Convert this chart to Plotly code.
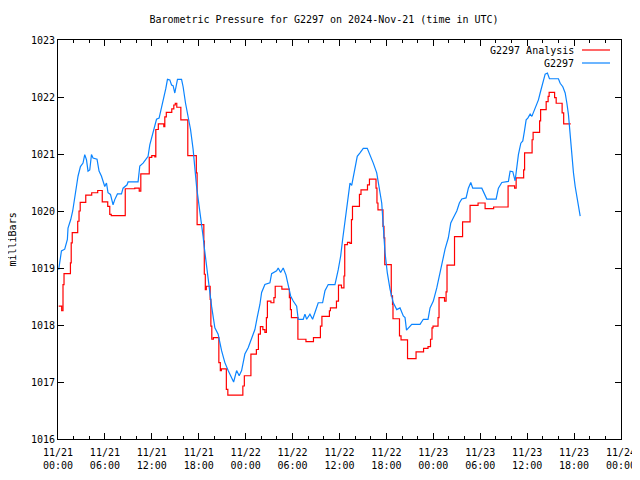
import pandas as pd
import plotly.graph_objects as go

# Hours since 2024-11-21 00:00 UTC
start = pd.Timestamp("2024-11-21 00:00")

analysis_hours = [0.09, 0.47, 0.64, 0.77, 1.59, 1.69, 1.82, 2.52, 2.69, 2.84, 3.55, 4.31, 5.08, 5.66, 6.36,
                  6.62, 6.81, 8.60, 9.82, 10.39, 10.59, 11.67, 11.99, 12.38, 12.51, 12.83, 13.53, 13.66, 13.85,
                  14.55, 14.81, 15.00, 15.19, 15.71, 16.60, 17.69, 17.79, 18.65, 18.71, 18.84, 18.97, 19.46,
                  19.55, 19.67, 19.87, 20.57, 20.76, 20.89, 21.53, 21.72, 23.64, 23.83, 24.67, 25.37, 25.63,
                  25.88, 26.20, 26.46, 26.65, 26.78, 27.23, 27.61, 27.78, 28.63, 29.59, 29.72, 29.85, 30.68,
                  31.71, 32.67, 33.56, 33.75, 34.71, 34.84, 35.61, 35.87, 36.25, 36.57, 36.67, 37.02, 37.34,
                  37.53, 37.66, 38.55, 38.75, 39.58, 39.83, 40.67, 40.79, 40.92, 41.56, 41.69, 41.79, 42.62,
                  42.78, 42.84, 43.67, 43.87, 44.70, 45.79, 46.75, 47.32, 47.64, 47.83, 47.96, 48.60, 48.73,
                  49.43, 49.63, 49.75, 50.71, 51.74, 52.70, 53.72, 54.62, 55.71, 57.56, 58.39, 58.59, 59.55,
                  59.67, 60.63, 60.76, 61.59, 61.72, 62.43, 62.68, 62.81, 63.51, 63.71, 64.47, 64.67, 65.57]
analysis_mb = [1018.33, 1018.25, 1018.71, 1018.90, 1019.09, 1019.44, 1019.62, 1019.82, 1020.00, 1020.15,
               1020.28, 1020.32, 1020.36, 1020.16, 1020.08, 1019.94, 1019.92, 1020.39, 1020.40, 1020.35,
               1020.65, 1020.94, 1020.97, 1020.95, 1021.43, 1021.53, 1021.48, 1021.65, 1021.73, 1021.79,
               1021.86, 1021.89, 1021.82, 1021.60, 1020.97, 1020.67, 1019.76, 1019.47, 1018.89, 1018.62,
               1018.68, 1018.45, 1017.98, 1017.75, 1017.78, 1017.34, 1017.20, 1017.23, 1016.87, 1016.77,
               1016.93, 1017.11, 1017.49, 1017.57, 1017.84, 1017.97, 1017.92, 1017.87, 1018.13, 1018.42,
               1018.39, 1018.48, 1018.68, 1018.63, 1018.48, 1018.27, 1018.13, 1017.75, 1017.71, 1017.78,
               1017.98, 1018.15, 1018.25, 1018.30, 1018.42, 1018.70, 1018.65, 1018.86, 1019.41, 1019.45,
               1019.43, 1019.85, 1020.08, 1020.29, 1020.37, 1020.46, 1020.56, 1020.40, 1020.14, 1020.02,
               1019.73, 1019.53, 1019.06, 1018.51, 1018.36, 1018.11, 1017.81, 1017.74, 1017.41, 1017.53,
               1017.59, 1017.62, 1017.75, 1017.95, 1017.98, 1018.13, 1018.48, 1018.42, 1018.58, 1019.05,
               1019.55, 1019.81, 1020.10, 1020.14, 1020.04, 1020.07, 1020.44, 1020.40, 1020.58, 1020.72,
               1021.02, 1021.25, 1021.38, 1021.58, 1021.78, 1021.92, 1022.01, 1022.08, 1021.99, 1021.89,
               1021.72, 1021.53, 1021.53]

obs_hours = [0.09, 0.44, 0.86, 1.20, 1.28, 1.63, 1.88, 2.27, 2.56, 2.87, 3.20, 3.42, 3.64, 3.84, 4.06, 4.28,
             4.48, 4.99, 5.25, 5.56, 5.98, 6.20, 6.40, 6.71, 7.04, 7.26, 7.60, 8.12, 8.32, 8.83, 8.96, 10.24,
             10.46, 10.88, 11.23, 11.52, 11.74, 12.16, 12.38, 12.60, 12.93, 13.24, 13.53, 13.79, 14.00, 14.30,
             14.52, 14.72, 14.94, 15.16, 15.28, 15.80, 16.00, 16.31, 16.64, 16.95, 17.28, 17.50, 17.72, 18.05,
             18.36, 18.56, 18.69, 19.00, 19.33, 19.64, 20.06, 20.48, 20.92, 21.34, 21.76, 22.20, 22.46, 22.84,
             23.17, 23.48, 23.90, 24.32, 24.76, 25.18, 25.47, 25.82, 26.04, 26.46, 27.10, 27.32, 27.96, 28.16,
             28.47, 28.80, 29.15, 29.44, 29.75, 30.08, 30.52, 30.72, 31.36, 31.58, 31.80, 32.22, 32.56, 32.86,
             33.28, 33.84, 34.14, 34.56, 35.42, 35.84, 36.15, 36.40, 36.61, 36.92, 37.17, 37.34, 37.56, 37.76,
             37.98, 38.27, 38.62, 39.04, 39.55, 39.90, 40.32, 40.76, 41.09, 41.40, 41.60, 41.82, 42.11, 42.46,
             42.88, 43.32, 43.74, 44.16, 44.38, 44.57, 45.24, 46.30, 46.72, 47.32, 47.58, 48.00, 48.44, 48.77,
             49.08, 49.50, 49.92, 50.23, 50.56, 51.00, 51.33, 51.64, 52.19, 52.48, 52.79, 53.04, 54.20, 54.62,
             54.84, 56.03, 56.32, 56.76, 57.60, 57.82, 58.16, 58.46, 58.68, 58.88, 59.19, 59.44, 59.65, 59.87,
             60.08, 60.38, 60.60, 60.80, 61.02, 61.24, 61.44, 61.66, 61.88, 62.08, 62.30, 62.59, 62.85, 64.00,
             64.22, 64.56, 64.86, 65.08, 65.28, 65.50, 65.63, 65.76, 65.92, 66.14, 66.36, 66.56, 66.78]
obs_mb = [1018.97, 1019.30, 1019.33, 1019.50, 1019.70, 1019.85, 1020.00, 1020.32, 1020.61, 1020.78, 1020.84,
          1020.99, 1020.90, 1020.70, 1020.72, 1020.99, 1020.93, 1020.91, 1020.70, 1020.61, 1020.43, 1020.49,
          1020.32, 1020.29, 1020.11, 1020.20, 1020.30, 1020.30, 1020.40, 1020.46, 1020.51, 1020.51, 1020.79,
          1020.84, 1020.90, 1020.96, 1021.16, 1021.37, 1021.51, 1021.61, 1021.63, 1021.80, 1022.01, 1022.15,
          1022.31, 1022.30, 1022.21, 1022.20, 1022.07, 1022.21, 1022.31, 1022.31, 1022.18, 1021.89, 1021.66,
          1021.43, 1021.08, 1020.72, 1020.43, 1020.08, 1019.79, 1019.55, 1019.38, 1019.03, 1018.62, 1018.33,
          1017.95, 1017.84, 1017.55, 1017.34, 1017.20, 1017.09, 1017.00, 1017.20, 1017.11, 1017.20, 1017.49,
          1017.60, 1017.78, 1017.92, 1018.13, 1018.36, 1018.57, 1018.71, 1018.74, 1018.90, 1018.95, 1019.00,
          1018.92, 1019.00, 1018.88, 1018.68, 1018.51, 1018.42, 1018.33, 1018.10, 1018.10, 1018.19, 1018.10,
          1018.19, 1018.10, 1018.22, 1018.39, 1018.39, 1018.60, 1018.71, 1018.71, 1018.97, 1019.21, 1019.50,
          1019.73, 1020.02, 1020.37, 1020.49, 1020.45, 1020.61, 1020.78, 1020.96, 1021.02, 1021.10, 1021.10,
          1020.99, 1020.84, 1020.67, 1020.43, 1020.14, 1019.73, 1019.27, 1018.92, 1018.63, 1018.39, 1018.27,
          1018.30, 1018.16, 1018.13, 1017.91, 1018.01, 1018.01, 1018.10, 1018.10, 1018.30, 1018.42, 1018.65,
          1018.86, 1019.12, 1019.33, 1019.53, 1019.79, 1019.88, 1020.00, 1020.14, 1020.21, 1020.23, 1020.40,
          1020.50, 1020.40, 1020.40, 1020.29, 1020.21, 1020.21, 1020.40, 1020.50, 1020.52, 1020.70, 1020.69,
          1020.53, 1020.84, 1020.99, 1021.19, 1021.23, 1021.40, 1021.60, 1021.63, 1021.70, 1021.66, 1021.73,
          1021.78, 1021.86, 1021.95, 1022.07, 1022.18, 1022.32, 1022.40, 1022.42, 1022.32, 1022.32, 1022.24,
          1022.18, 1022.07, 1021.89, 1021.69, 1021.34, 1021.10, 1020.84, 1020.67, 1020.43, 1020.23, 1020.06,
          1019.91]

tick_hours = list(range(0, 73, 6))
tick_labels = ["11/21<br>00:00", "11/21<br>06:00", "11/21<br>12:00", "11/21<br>18:00",
               "11/22<br>00:00", "11/22<br>06:00", "11/22<br>12:00", "11/22<br>18:00",
               "11/23<br>00:00", "11/23<br>06:00", "11/23<br>12:00", "11/23<br>18:00",
               "11/24<br>00:00"]
y_ticks = [1016, 1017, 1018, 1019, 1020, 1021, 1022, 1023]

series_names = ["G2297 Analysis", "G2297"]
series_colors = ["#ff0000", "#0a84ff"]
series_shapes = ["hv", "linear"]


def to_time(hours):
    return [start + pd.Timedelta(hours=h) for h in hours]


FONT = "DejaVu Sans Mono"
OFF = 8  # page body margin in the browser
W, H = 640 - OFF, 480 - OFF
L, R, T, B = 58 - OFF, 19, 40 - OFF, 41
PW, PH = W - L - R, H - T - B

fig = go.Figure()
for hrs, vals, nm, col, shp in zip([analysis_hours, obs_hours], [analysis_mb, obs_mb],
                                   series_names, series_colors, series_shapes):
    fig.add_trace(go.Scatter(x=to_time(hrs), y=vals, mode="lines",
                             line=dict(color=col, width=1.2, shape=shp),
                             name=nm, showlegend=False))

axis_common = dict(showline=True, linecolor="black", linewidth=1, mirror="allticks",
                   ticks="inside", ticklen=6, tickcolor="black", tickwidth=1,
                   showgrid=False, zeroline=False, automargin=False,
                   tickfont=dict(family=FONT, size=10, color="black"))

fig.update_xaxes(range=[start, start + pd.Timedelta(hours=72)],
                 tickvals=to_time(tick_hours), ticktext=tick_labels, ticklabelstandoff=4,
                 minor=dict(tickvals=to_time(list(range(0, 73, 2))), ticks="inside",
                            ticklen=3, tickcolor="black", tickwidth=1, showgrid=False),
                 **axis_common)
fig.update_yaxes(range=[1016, 1023], tickvals=y_ticks, ticktext=[str(v) for v in y_ticks],
                 **axis_common)

fig.add_annotation(xref="paper", yref="paper", x=-(58 - 12) / PW, y=0.5, text="milliBars",
                   textangle=-90, showarrow=False, xanchor="center", yanchor="middle",
                   font=dict(family=FONT, size=10, color="black"))

# gnuplot-style key: text right-aligned, line sample on its right
for i, (nm, col) in enumerate(zip(series_names, series_colors)):
    ypos = 1 - (10 + 13 * i) / PH
    fig.add_annotation(xref="paper", yref="paper", x=(576 - 58) / PW, y=ypos, text=nm,
                       showarrow=False, xanchor="right", yanchor="middle",
                       font=dict(family=FONT, size=10, color="black"))
    fig.add_shape(type="line", xref="paper", yref="paper",
                  x0=(582 - 58) / PW, x1=(610 - 58) / PW, y0=ypos, y1=ypos,
                  line=dict(color=col, width=1.2))

fig.update_layout(
    width=W, height=H, autosize=False,
    margin=dict(l=L, r=R, t=T, b=B),
    paper_bgcolor="white", plot_bgcolor="white",
    title=dict(text="Barometric Pressure for G2297 on 2024-Nov-21 (time in UTC)",
               x=0.5, xanchor="center", y=1 - (19 - OFF) / H, yanchor="middle",
               font=dict(family=FONT, size=10, color="black")),
    showlegend=False,
)

fig.write_html("out.html")
